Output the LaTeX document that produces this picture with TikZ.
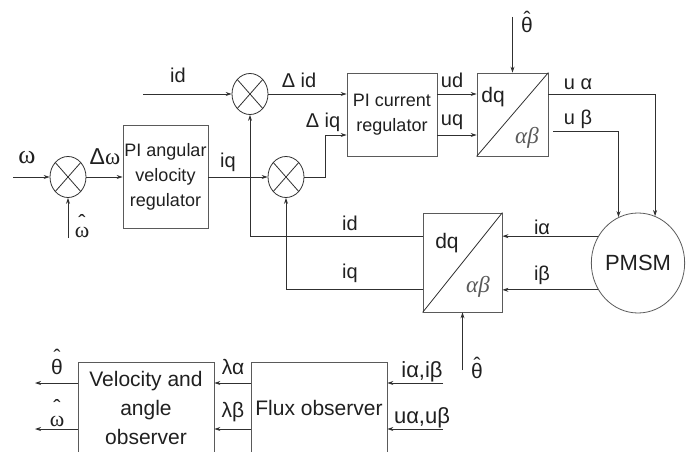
\documentclass[tikz,border=0pt]{standalone}
\usepackage{fontspec}
\setmainfont{Liberation Sans}
\newfontfamily\serifgr{Liberation Serif}
\usetikzlibrary{shapes.geometric,arrows.meta,calc}
\definecolor{ln}{HTML}{303030}
\definecolor{bx}{HTML}{5A5A5A}
\definecolor{tx}{HTML}{202020}
\newcommand\om{{\serifgr ω}}
\newcommand\fs[1]{\fontsize{#1}{#1}\selectfont}
\begin{document}
\begin{tikzpicture}[x=1pt,y=-1pt,
  line/.style={draw=ln, line width=0.8pt},
  arr/.style={line, -{Stealth[length=6pt,width=4pt]}},
  blk/.style={draw=bx, line width=0.8pt, rectangle, inner sep=0pt, align=center, text=tx},
  sum/.style={ellipse, draw=ln, line width=0.8pt, minimum width=36pt, minimum height=41pt, inner sep=0pt,
    path picture={\draw[ln, line width=0.8pt] (path picture bounding box.north west) -- (path picture bounding box.south east)
      (path picture bounding box.south west) -- (path picture bounding box.north east);}},
  pm/.style={ellipse, draw=bx, line width=0.8pt, minimum width=86pt, minimum height=100pt, inner sep=0pt, text=tx, font=\fs{22}},
  lbl/.style={text=tx, inner sep=0pt, font=\fs{20}},
  hatl/.style={text=tx, inner sep=0pt, align=center}]
\useasboundingbox (0,0) rectangle (689,452);
\clip (0,0) rectangle (689,452);
\fill[white] (0,0) rectangle (689,452);

% blocks
\node[sum] (s1) at (68,177) {};
\node[blk, minimum width=85pt, minimum height=103pt, font=\fontsize{18}{25}\selectfont] (pia) at (165.5,176.5) {PI angular\\velocity\\regulator};
\node[sum] (s2) at (250,94) {};
\node[sum] (s3) at (286,177) {};
\node[blk, minimum width=90pt, minimum height=83pt, font=\fontsize{18}{25}\selectfont] (pic) at (392,114.5) {PI current\\regulator};
\node[blk, minimum width=71pt, minimum height=83pt] (dq1) at (512.5,114.5) {};
\node[pm] (pm) at (638,263) {PMSM};
\node[blk, minimum width=79pt, minimum height=99pt] (dq2) at (462.5,262.5) {};
\node[blk, minimum width=136pt, minimum height=92pt, font=\fontsize{21}{29}\selectfont] (obs) at (146,408) {Velocity and\\angle\\observer};
\node[blk, minimum width=136pt, minimum height=92pt, font=\fs{21}] (flux) at (319,408) {Flux observer};

% diagonals and labels inside dq boxes
\draw[line] (dq1.south west) -- (dq1.north east);
\draw[line] (dq2.south west) -- (dq2.north east);
\node[lbl, font=\fs{21}] (dq1a) at (493,97) {dq};
\node[text=bx, inner sep=0pt, font=\fs{23}\serifgr\itshape] (dq1b) at (527,138) {αβ};
\node[lbl, font=\fs{21}] (dq2a) at (447,243) {dq};
\node[text=bx, inner sep=0pt, font=\fs{23}\serifgr\itshape] (dq2b) at (478,287) {αβ};

% free ends
\coordinate (win) at (13,177);
\coordinate (whin) at (68,238);
\coordinate (idin) at (143,94);
\coordinate (tht) at (512.5,17);
\coordinate (thb) at (462.5,370);
\coordinate (iin) at (443,383);
\coordinate (uin) at (443,429);
\coordinate (tho) at (35,383);
\coordinate (who) at (35,429);

% connectors
\draw[arr] (win) -- (s1);
\draw[arr] (whin) -- (s1);
\draw[arr] (s1.east) -- (pia.west |- s1.east);
\draw[arr] (pia.east |- s3) -- (s3);
\draw[arr] (idin) -- (s2);
\draw[arr] (s2.east) -- (s2 -| pic.west);
\draw[arr] (s3.east) -- ++(21,0) |- ($(pic.west)+(0,20.5)$);
\draw[arr] (pic.east |- s2) -- (dq1.west |- s2);
\draw[arr] ($(pic.east)+(0,20.5)$) -- ($(dq1.west)+(0,20.5)$);
\draw[arr] (tht) -- (dq1.north);
\draw[arr] (dq1.east |- s2) -| (pm.70);
\draw[arr] ($(dq1.east)+(5,16.5)$) -| (pm.113);
\draw[arr] (pm.146) -- (pm.146 -| dq2.east);
\draw[arr] (pm.214) -- (pm.214 -| dq2.east);
\draw[arr] (dq2.west |- pm.146) -| (s2.south);
\draw[arr] (dq2.west |- pm.214) -| (s3.south);
\draw[arr] (thb) -- (dq2.south);
\draw[arr] (flux.west |- iin) -- (obs.east |- iin);
\draw[arr] (flux.west |- uin) -- (obs.east |- uin);
\draw[arr] (iin) -- (iin -| flux.east);
\draw[arr] (uin) -- (uin -| flux.east);
\draw[arr] (obs.west |- iin) -- (tho);
\draw[arr] (obs.west |- uin) -- (who);

% labels
\node[lbl, font=\fs{26}] (lw) at (27,158) {\om};
\node[hatl, font=\fs{22}] (lwh) at (82,226) {ˆ\\[-15pt]\om};
\node[lbl, font=\fs{23}] (ldw) at (105,157) {Δ\om};
\node[lbl] (lid) at (178,75) {id};
\node[lbl] (ldid) at (299,80) {Δ id};
\node[lbl] (ldiq) at (323,122) {Δ iq};
\node[lbl] (liq) at (228,162) {iq};
\node[lbl] (lud) at (452,80) {ud};
\node[lbl] (luq) at (452,122) {uq};
\node[hatl, font=\fs{21}] (lth1) at (527,22) {ˆ\\[-15pt]θ};
\node[lbl] (lua) at (578,84) {u α};
\node[lbl] (lub) at (578,119) {u β};
\node[lbl] (lid2) at (350,223) {id};
\node[lbl] (liq2) at (350,273) {iq};
\node[lbl] (lia) at (542,227) {iα};
\node[lbl] (lib) at (542,275) {iβ};
\node[hatl, font=\fs{21}] (lth2) at (477,368) {ˆ\\[-15pt]θ};
\node[hatl, font=\fs{21}] (lth3) at (57,362) {ˆ\\[-11pt]θ};
\node[hatl, font=\fs{22}] (lw3) at (57,413) {ˆ\\[-11pt]\om};
\node[lbl, font=\fs{21}] (lla) at (233,367) {λα};
\node[lbl, font=\fs{21}] (llb) at (233,412) {λβ};
\node[lbl, font=\fs{22}] (liab) at (422,372) {iα,iβ};
\node[lbl, font=\fs{22}] (luab) at (422,418) {uα,uβ};
\end{tikzpicture}
\end{document}
